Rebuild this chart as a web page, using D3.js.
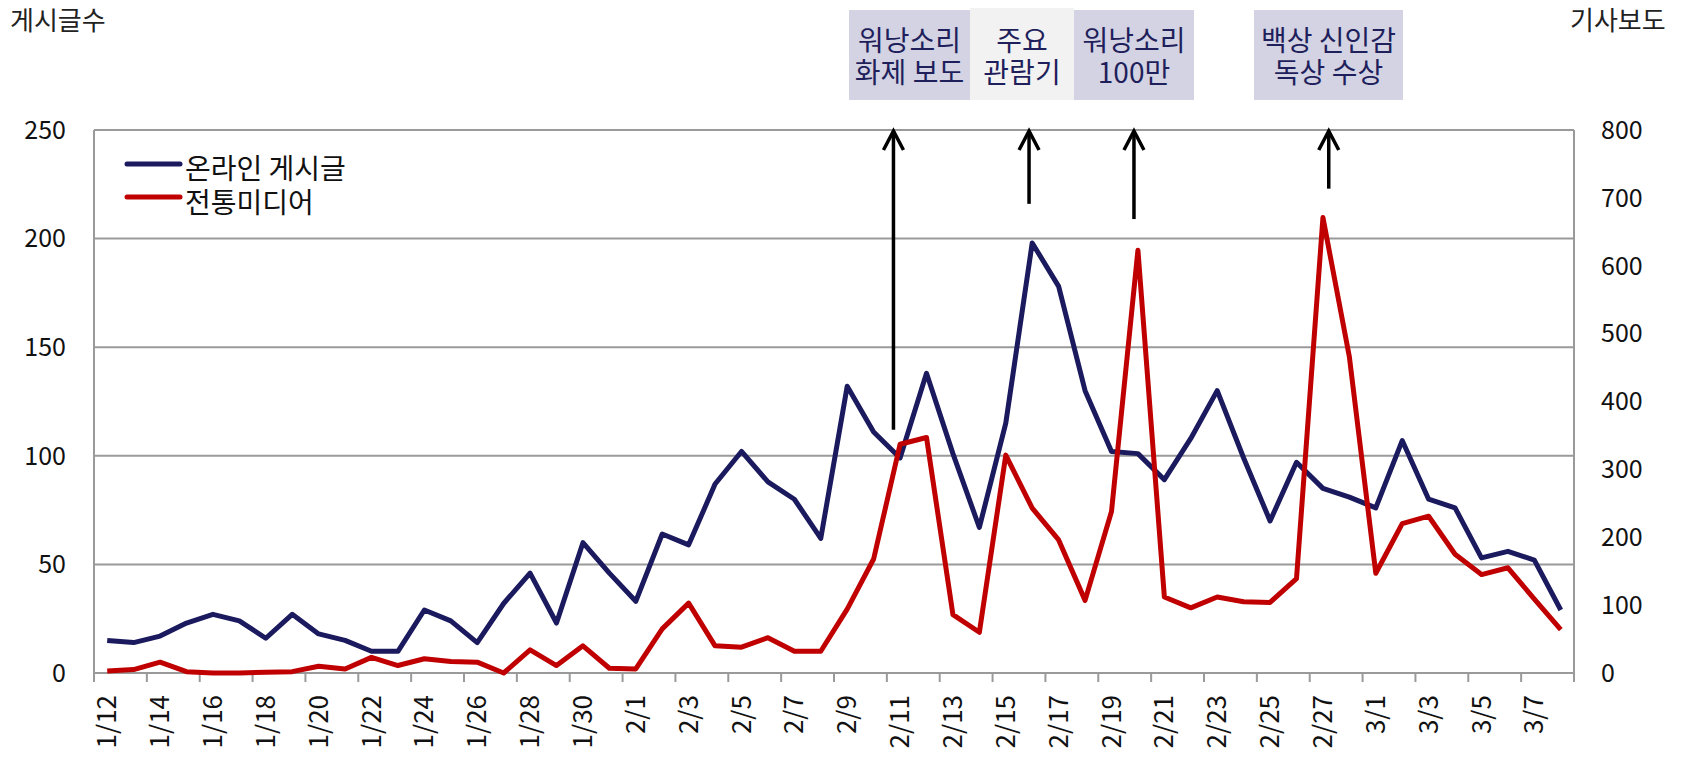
<!DOCTYPE html>
<html>
<head>
<meta charset="utf-8">
<script src="https://cdn.jsdelivr.net/npm/d3@7"></script>
<style>
  body { margin: 0; background: #fff; }
</style>
</head>
<body>
<script>
const dates = [
  "1/12","1/13","1/14","1/15","1/16","1/17","1/18","1/19","1/20","1/21",
  "1/22","1/23","1/24","1/25","1/26","1/27","1/28","1/29","1/30","1/31",
  "2/1","2/2","2/3","2/4","2/5","2/6","2/7","2/8","2/9","2/10",
  "2/11","2/12","2/13","2/14","2/15","2/16","2/17","2/18","2/19","2/20",
  "2/21","2/22","2/23","2/24","2/25","2/26","2/27","2/28","3/1","3/2",
  "3/3","3/4","3/5","3/6","3/7","3/8"
];
// 온라인 게시글 (left axis)
const online = [
  15,14,17,23,27,24,16,27,18,15,
  10,10,29,24,14,32,46,23,60,46,
  33,64,59,87,102,88,80,62,132,111,
  99,138,101,67,115,198,178,130,102,101,
  89,108,130,99,70,97,85,81,76,107,
  80,76,53,56,52,29
];
// 전통미디어 기사 (right axis)
const media = [
  3,5,16,2,0,0,1,2,10,6,
  23,11,21,17,16,0,34,11,40,7,
  6,65,103,40,38,52,32,32,94,168,
  337,347,86,60,321,243,196,107,238,623,
  112,96,112,105,104,139,671,466,147,220,
  231,175,145,155,109,64
];
const leftTicks = [0, 50, 100, 150, 200, 250];
const rightTicks = [0, 100, 200, 300, 400, 500, 600, 700, 800];
const seriesNames = ["온라인 게시글", "전통미디어"];
const eventLabels = [["워낭소리", "화제 보도"], ["주요", "관람기"], ["워낭소리", "100만"], ["백상 신인감", "독상 수상"]];
const eventDates = ["2/11", "2/16", "2/20", "2/27"];

const width = 1681, height = 759;
const plotL = 94, plotR = 1574, plotT = 130, plotB = 673;
const navy = "#1b1a5e", red = "#c00000", grid = "#9a9a9a";

const svg = d3.select("body").append("svg")
  .attr("width", width)
  .attr("height", height)
  .attr("font-family", "'Noto Sans CJK KR', 'Noto Sans', sans-serif");

const x = d3.scaleBand().domain(dates).range([plotL, plotR]);
const bw = x.bandwidth();
const yL = d3.scaleLinear().domain([0, 250]).range([plotB, plotT]);
const yR = d3.scaleLinear().domain([0, 800]).range([plotB, plotT]);
const cx = d => x(d) + bw / 2;

// gridlines
svg.append("g")
  .selectAll("line")
  .data(leftTicks.slice(1))
  .join("line")
  .attr("x1", plotL).attr("x2", plotR)
  .attr("y1", d => yL(d)).attr("y2", d => yL(d))
  .attr("stroke", grid)
  .attr("stroke-width", 2);

// axis lines
const axisG = svg.append("g").attr("stroke", grid).attr("stroke-width", 2);
axisG.append("line").attr("x1", plotL).attr("x2", plotL).attr("y1", plotT).attr("y2", plotB + 9);
axisG.append("line").attr("x1", plotR).attr("x2", plotR).attr("y1", plotT).attr("y2", plotB + 9);
axisG.append("line").attr("x1", plotL).attr("x2", plotR).attr("y1", plotB).attr("y2", plotB);
axisG.selectAll(".tick")
  .data(dates.filter((d, i) => i % 2 === 0 && i > 0))
  .join("line")
  .attr("x1", d => x(d)).attr("x2", d => x(d))
  .attr("y1", plotB).attr("y2", plotB + 9);

// left axis labels
svg.append("g")
  .attr("font-size", 25)
  .attr("fill", "#111")
  .attr("text-anchor", "end")
  .selectAll("text")
  .data(leftTicks)
  .join("text")
  .attr("x", 66)
  .attr("y", d => yL(d))
  .attr("dy", "0.35em")
  .text(d => d);

// right axis labels
svg.append("g")
  .attr("font-size", 25)
  .attr("fill", "#111")
  .selectAll("text")
  .data(rightTicks)
  .join("text")
  .attr("x", 1601)
  .attr("y", d => yR(d))
  .attr("dy", "0.35em")
  .text(d => d);

// x labels, rotated
svg.append("g")
  .attr("font-size", 26)
  .attr("fill", "#111")
  .selectAll("text")
  .data(dates.filter((d, i) => i % 2 === 0))
  .join("text")
  .attr("text-anchor", "end")
  .attr("transform", d => `translate(${cx(d)},${plotB + 22}) rotate(-90)`)
  .attr("dy", "0.35em")
  .text(d => d);

// axis titles
svg.append("text").attr("x", 10).attr("y", 21).attr("dy", "0.35em")
  .attr("font-size", 26).attr("fill", "#222").text("게시글수");
svg.append("text").attr("x", 1570).attr("y", 21).attr("dy", "0.35em")
  .attr("font-size", 26).attr("fill", "#222").text("기사보도");

// series lines
const lineL = d3.line().x((d, i) => cx(dates[i])).y(d => yL(d));
const lineR = d3.line().x((d, i) => cx(dates[i])).y(d => yR(d));

svg.append("path")
  .datum(online)
  .attr("fill", "none")
  .attr("stroke", navy)
  .attr("stroke-width", 5)
  .attr("stroke-linejoin", "round")
  .attr("d", lineL);

svg.append("path")
  .datum(media)
  .attr("fill", "none")
  .attr("stroke", red)
  .attr("stroke-width", 5)
  .attr("stroke-linejoin", "round")
  .attr("d", lineR);

// legend
const legend = svg.append("g");
[navy, red].forEach((c, i) => {
  legend.append("line")
    .attr("x1", 127).attr("x2", 180)
    .attr("y1", 164 + i * 33).attr("y2", 164 + i * 33)
    .attr("stroke", c).attr("stroke-width", 5).attr("stroke-linecap", "round");
  legend.append("text")
    .attr("x", 185).attr("y", 169 + i * 34)
    .attr("dy", "0.35em")
    .attr("font-size", 28)
    .attr("fill", "#111")
    .text(seriesNames[i]);
});

// event boxes and arrows
const boxes = [
  { x0: 849, x1: 970, y0: 10, fill: "#d3d3e3" },
  { x0: 970, x1: 1074, y0: 8, fill: "#f2f2f2" },
  { x0: 1074, x1: 1194, y0: 10, fill: "#d3d3e3" },
  { x0: 1254, x1: 1403, y0: 10, fill: "#d3d3e3" }
];
const arrows = [
  { shift: -0.25, from: 112 },
  { shift: -0.12, from: 216 },
  { shift: -0.15, from: 209 },
  { shift: 0.22, from: 223 }
];

const ev = svg.append("g");
boxes.forEach((b, i) => {
  ev.append("rect")
    .attr("x", b.x0).attr("y", b.y0)
    .attr("width", b.x1 - b.x0).attr("height", 100 - b.y0)
    .attr("fill", b.fill);
  eventLabels[i].forEach((t, j) => {
    ev.append("text")
      .attr("text-anchor", "middle")
      .attr("font-size", 28)
      .attr("fill", "#1f1f5c")
      .attr("x", (b.x0 + b.x1) / 2)
      .attr("y", 41 + j * 32)
      .attr("dy", "0.35em")
      .text(t);
  });

  const ax = cx(eventDates[i]) + arrows[i].shift * bw;
  ev.append("line")
    .attr("x1", ax).attr("x2", ax)
    .attr("y1", yL(arrows[i].from)).attr("y2", plotT + 1)
    .attr("stroke", "#000").attr("stroke-width", 3.5);
  ev.append("path")
    .attr("d", `M${ax - 10},${plotT + 20}L${ax},${plotT + 1}L${ax + 10},${plotT + 20}`)
    .attr("fill", "none")
    .attr("stroke", "#000")
    .attr("stroke-width", 3.5);
});
</script>
</body>
</html>
